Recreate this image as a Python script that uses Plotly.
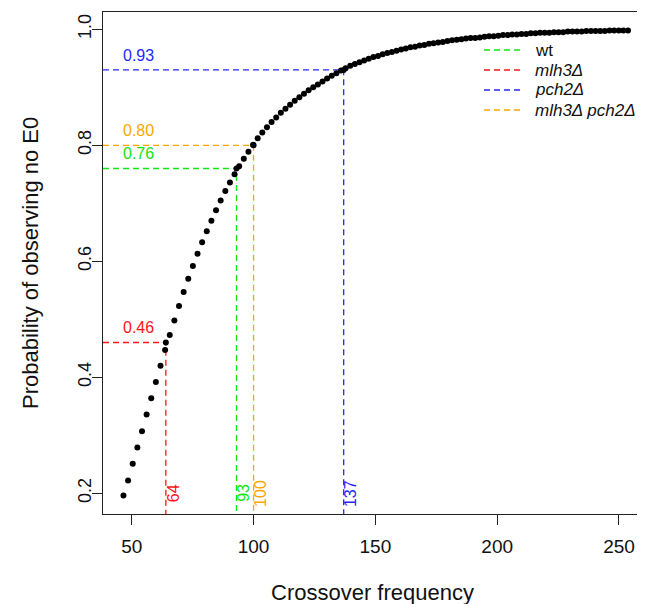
import plotly.graph_objects as go

# ---- data ----
crossover_freq = [
    46.6, 48.5, 50.4, 52.3, 54.2, 56.1, 58.0, 59.9, 61.8, 63.7,
    65.6, 67.5, 69.4, 71.3, 73.2, 75.1, 77.0, 78.9, 80.8, 82.7,
    84.6, 86.5, 88.4, 90.3, 92.2, 94.1, 96.0, 97.9, 99.8, 101.7,
    103.6, 105.5, 107.4, 109.3, 111.2, 113.1, 115.0, 116.9, 118.8, 120.7,
    122.6, 124.5, 126.4, 128.3, 130.2, 132.1, 134.0, 135.9, 137.8, 139.7,
    141.6, 143.5, 145.4, 147.3, 149.2, 151.1, 153.0, 154.9, 156.8, 158.7,
    160.6, 162.5, 164.4, 166.3, 168.2, 170.1, 172.0, 173.9, 175.8, 177.7,
    179.6, 181.5, 183.4, 185.3, 187.2, 189.1, 191.0, 192.9, 194.8, 196.7,
    198.6, 200.5, 202.4, 204.3, 206.2, 208.1, 210.0, 211.9, 213.8, 215.7,
    217.6, 219.5, 221.4, 223.3, 225.2, 227.1, 229.0, 230.9, 232.8, 234.7,
    236.6, 238.5, 240.4, 242.3, 244.2, 246.1, 248.0, 249.9, 251.8, 253.7,
]
prob_no_e0 = [
    0.196, 0.222, 0.251, 0.279, 0.307, 0.336, 0.364, 0.392, 0.420, 0.447,
    0.473, 0.498, 0.523, 0.547, 0.570, 0.592, 0.613, 0.633, 0.652, 0.670,
    0.688, 0.705, 0.721, 0.736, 0.750, 0.764, 0.777, 0.789, 0.801, 0.812,
    0.822, 0.831, 0.840, 0.848, 0.856, 0.863, 0.870, 0.877, 0.883, 0.889,
    0.895, 0.900, 0.905, 0.910, 0.915, 0.920, 0.924, 0.929, 0.933, 0.937,
    0.940, 0.943, 0.946, 0.949, 0.952, 0.954, 0.957, 0.959, 0.961, 0.963,
    0.965, 0.967, 0.969, 0.970, 0.972, 0.973, 0.975, 0.976, 0.977, 0.978,
    0.980, 0.981, 0.982, 0.983, 0.984, 0.985, 0.985, 0.986, 0.987, 0.988,
    0.988, 0.989, 0.990, 0.990, 0.991, 0.991, 0.992, 0.992, 0.993, 0.993,
    0.994, 0.994, 0.994, 0.995, 0.995, 0.995, 0.996, 0.996, 0.996, 0.996,
    0.997, 0.997, 0.997, 0.997, 0.997, 0.998, 0.998, 0.998, 0.998, 0.998,
]
assert len(crossover_freq) == len(prob_no_e0)

genotypes = ["wt", "mlh3Δ", "pch2Δ", "mlh3Δ pch2Δ"]
genotype_italic = [False, True, True, True]
genotype_crossovers = [93, 64, 137, 100]
genotype_probs = [0.76, 0.46, 0.93, 0.80]
genotype_colors = ["#10e610", "#ff1414", "#2626ff", "#ffa500"]

x_ticks = [50, 100, 150, 200, 250]
y_ticks = [0.2, 0.4, 0.6, 0.8, 1.0]
y_tick_labels = ["0.2", "0.4", "0.6", "0.8", "1.0"]

# ---- layout constants ----
# the page body has an 8px default margin; the figure is shifted to compensate
BODY = 8
W, H = 645 - BODY, 604 - BODY
PLOT_RIGHT_PX = 637          # visible right edge of the plotting region (window px)
M_L, M_T, M_B = 103 - BODY, 12 - BODY, 604 - 514
M_R = W - (PLOT_RIGHT_PX - BODY)
X_RANGE = [38.2, 257.4]
Y_RANGE = [0.1643, 1.0298]
FONT = "Liberation Sans, Arial, Helvetica, sans-serif"
DASH = "6px,4px"


def px_to_paper_x(px):
    return (px - BODY - M_L) / (W - M_L - M_R)


def px_to_paper_y(py):
    return (H - M_B - (py - BODY)) / (H - M_T - M_B)


fig = go.Figure()

# dashed guide lines per genotype
for name, co, p, col in zip(genotypes, genotype_crossovers, genotype_probs, genotype_colors):
    fig.add_trace(go.Scatter(
        x=[X_RANGE[0], co, co], y=[p, p, Y_RANGE[0]],
        mode="lines",
        line=dict(color=col, width=1.3, dash=DASH),
        name=name, showlegend=False, hoverinfo="skip",
    ))

# probability curve (dots)
fig.add_trace(go.Scatter(
    x=crossover_freq, y=prob_no_e0, mode="markers",
    marker=dict(color="black", size=6, line=dict(width=0)),
    showlegend=False,
))
# marked genotype points
fig.add_trace(go.Scatter(
    x=genotype_crossovers, y=genotype_probs, mode="markers",
    marker=dict(color="black", size=6, line=dict(width=0)),
    showlegend=False,
))

annotations = []
shapes = []
for co, p, col in zip(genotype_crossovers, genotype_probs, genotype_colors):
    annotations.append(dict(
        x=45.5, y=p + 0.025, xref="x", yref="y", text=f"{p:.2f}",
        showarrow=False, xanchor="left", yanchor="middle",
        font=dict(family=FONT, size=16, color=col),
    ))
    annotations.append(dict(
        x=co + 2.9, y=0.2, xref="x", yref="y", text=str(co),
        showarrow=False, xanchor="center", yanchor="middle", textangle=-90,
        font=dict(family=FONT, size=16, color=col),
    ))

# legend (top right, no box)
legend_rows_px = [50, 70, 90, 110]
for name, ital, col, ry in zip(genotypes, genotype_italic, genotype_colors, legend_rows_px):
    shapes.append(dict(
        type="line", xref="paper", yref="paper",
        x0=px_to_paper_x(484), x1=px_to_paper_x(520),
        y0=px_to_paper_y(ry), y1=px_to_paper_y(ry),
        line=dict(color=col, width=1.3, dash=DASH),
    ))
    annotations.append(dict(
        x=px_to_paper_x(533), y=px_to_paper_y(ry), xref="paper", yref="paper",
        text=f"<i>{name}</i>" if ital else name,
        showarrow=False, xanchor="left", yanchor="middle",
        font=dict(family=FONT, size=17, color="#111"),
    ))

# axis titles
annotations.append(dict(
    x=px_to_paper_x(372), y=px_to_paper_y(592), xref="paper", yref="paper",
    text="Crossover frequency",
    showarrow=False, xanchor="center", yanchor="middle",
    font=dict(family=FONT, size=22, color="#111"),
))
annotations.append(dict(
    x=px_to_paper_x(30), y=px_to_paper_y(263), xref="paper", yref="paper",
    text="Probability of observing no E0",
    showarrow=False, xanchor="center", yanchor="middle", textangle=-90,
    font=dict(family=FONT, size=22, color="#111"),
))

fig.update_layout(
    width=W, height=H,
    margin=dict(l=M_L, r=M_R, t=M_T, b=M_B, pad=0, autoexpand=False),
    plot_bgcolor="white", paper_bgcolor="white",
    font=dict(family=FONT, color="#111"),
    annotations=annotations,
    shapes=shapes,
    showlegend=False,
    xaxis=dict(
        range=X_RANGE, tickvals=x_ticks, ticks="outside", ticklen=10, tickwidth=1,
        tickcolor="#222", showline=True, linecolor="#222", linewidth=1.2,
        mirror=True, showgrid=False, zeroline=False, automargin=False,
        tickfont=dict(family=FONT, size=19, color="#111"),
        ticklabelstandoff=5,
    ),
    yaxis=dict(
        range=Y_RANGE, tickvals=y_ticks, ticktext=y_tick_labels, ticks="outside",
        ticklen=10, tickwidth=1, tickcolor="#222", showline=True, linecolor="#222",
        linewidth=1.2, showgrid=False, zeroline=False, tickangle=-90, automargin=False,
        tickfont=dict(family=FONT, size=18, color="#111"),
        ticklabelstandoff=-6,
    ),
)

fig.write_html("out.html")
